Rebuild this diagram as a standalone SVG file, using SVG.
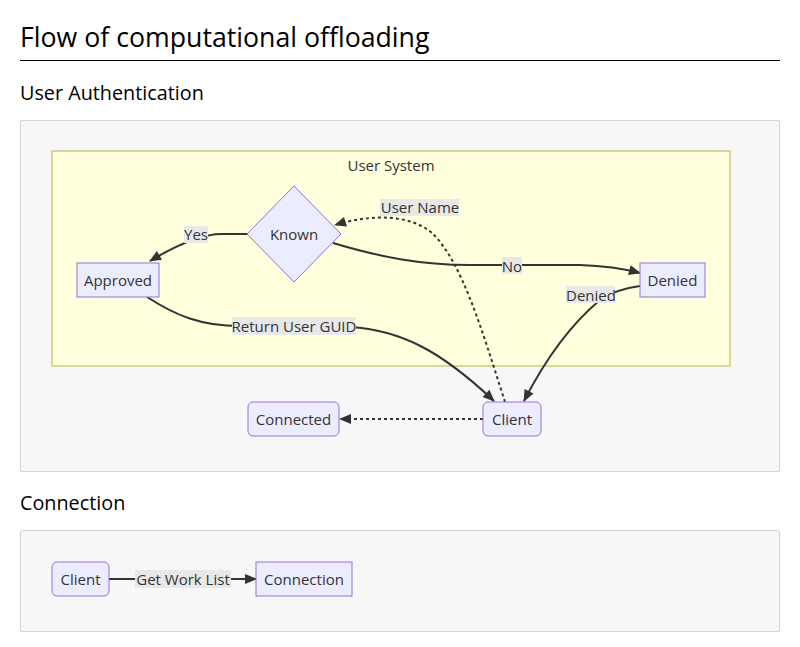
<svg xmlns="http://www.w3.org/2000/svg" width="800" height="647" viewBox="0 0 800 647">
<style>
text{font-family:"Open Sans","Noto Sans","DejaVu Sans",sans-serif;fill:#333}
.h1{font-size:26.7px;fill:#000}
.h2{font-size:19.8px;fill:#000}
.box{fill:#f7f7f7;stroke:#d0d0d0;stroke-width:1}
.sys{fill:#ffffde;stroke:#cccc80;stroke-width:1.5}
.node{fill:#ececff;stroke:#9370db;stroke-width:1}
.lbl{font-size:15px;text-anchor:middle;dominant-baseline:central}
.lbg{fill:#e8e8e8}
.edge{fill:none;stroke:#333;stroke-width:2}
.dot{stroke-dasharray:3 3}
</style>
<defs>
<marker id="arr" viewBox="0 0 12 10" refX="11" refY="5" markerWidth="12" markerHeight="10" markerUnits="userSpaceOnUse" orient="auto" overflow="visible">
<path d="M0,0 L12,5 L0,10 z" fill="#333"/>
</marker>
</defs>
<rect width="800" height="647" fill="#ffffff"/>
<text class="h1" x="20" y="47">Flow of computational offloading</text>
<line x1="20" y1="60.5" x2="780" y2="60.5" stroke="#000" stroke-width="1"/>
<text class="h2" x="20" y="100">User Authentication</text>
<rect class="box" x="20.5" y="120.5" width="759" height="351" rx="2"/>
<g id="user-system">
<rect class="sys" x="52" y="151" width="678" height="215"/>
<text class="lbl" x="391" y="165">User System</text>
</g>
<text class="h2" x="20" y="510">Connection</text>
<rect class="box" x="20.5" y="530.5" width="759" height="101" rx="2"/>
<g id="connectors">
<path class="edge" d="M247,234 L222,234 C202,234 175,246 150,261" marker-end="url(#arr)"/>
<path class="edge" d="M333,243 C380,257 420,265 470,265 L580,265 C610,266 625,269 640,273" marker-end="url(#arr)"/>
<path class="edge dot" d="M505,402 C482,330 462,262 432,233 C410,214 370,214 335,225" marker-end="url(#arr)"/>
<path class="edge" d="M147,297 C175,315 200,326 240,326 L350,327 C400,330 440,350 494,401" marker-end="url(#arr)"/>
<path class="edge" d="M640,286 C625,288 610,293 600,300 C570,325 545,360 524,401" marker-end="url(#arr)"/>
<path class="edge dot" d="M483,419 L340,419" marker-end="url(#arr)"/>
<path class="edge" d="M109,579 L256,579" marker-end="url(#arr)"/>
<rect class="lbg" x="184" y="226" width="24" height="17"/>
<text class="lbl" x="196" y="234">Yes</text>
<rect class="lbg" x="502" y="257" width="20" height="17"/>
<text class="lbl" x="512" y="265.5">No</text>
<rect class="lbg" x="380" y="199" width="79" height="17"/>
<text class="lbl" x="420" y="207">User Name</text>
<rect class="lbg" x="232" y="317" width="124" height="18"/>
<text class="lbl" x="294" y="326">Return User GUID</text>
<rect class="lbg" x="566" y="286" width="49" height="17"/>
<text class="lbl" x="591" y="294.5">Denied</text>
<rect class="lbg" x="135" y="570" width="96" height="18"/>
<text class="lbl" x="183" y="579">Get Work List</text>
</g>
<g id="known">
<polygon class="node" points="294,186 341,234 294,282 247,234"/>
<text class="lbl" x="294" y="233.5">Known</text>
</g>
<g id="approved">
<rect class="node" x="77" y="263" width="82" height="34"/>
<text class="lbl" x="118" y="279.5">Approved</text>
</g>
<g id="denied">
<rect class="node" x="640" y="263" width="65" height="34"/>
<text class="lbl" x="672.5" y="279.5">Denied</text>
</g>
<g id="client">
<rect class="node" x="483" y="402" width="58" height="34" rx="5"/>
<text class="lbl" x="512" y="418.5">Client</text>
</g>
<g id="connected">
<rect class="node" x="248" y="402" width="91" height="34" rx="5"/>
<text class="lbl" x="293.5" y="418.5">Connected</text>
</g>
<g id="client2">
<rect class="node" x="52" y="562" width="57" height="34" rx="5"/>
<text class="lbl" x="80.5" y="578.5">Client</text>
</g>
<g id="connection">
<rect class="node" x="256" y="562" width="96" height="34"/>
<text class="lbl" x="304" y="578.5">Connection</text>
</g>
</svg>
